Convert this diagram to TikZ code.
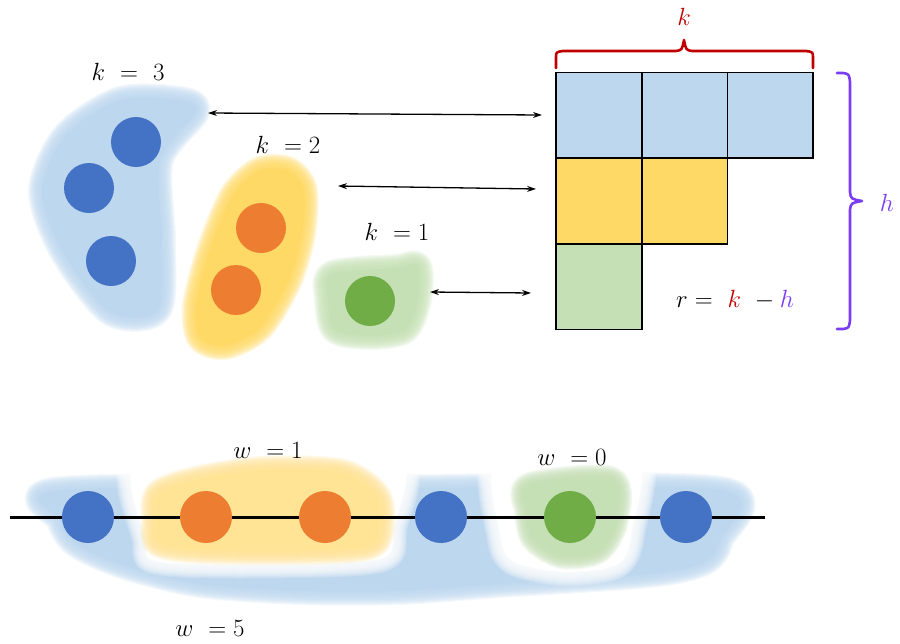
\documentclass[tikz,border=0pt]{standalone}
\usetikzlibrary{arrows.meta}
\definecolor{cblue}{RGB}{68,114,196}
\definecolor{corange}{RGB}{237,125,49}
\definecolor{cgreen}{RGB}{112,173,71}
\definecolor{lblue}{RGB}{189,215,238}
\definecolor{lyellow}{RGB}{255,217,102}
\definecolor{lyellow2}{RGB}{255,228,150}
\definecolor{lgreen}{RGB}{197,224,180}
\definecolor{bred}{RGB}{192,0,0}
\definecolor{bpurple}{RGB}{122,60,245}
\newcommand{\softfill}[2]{%
  \foreach \w in {28,26,...,2}{\draw[#1, line width=\w pt, opacity=0.17, line join=round] #2;}
  \fill[#1] #2;}
\tikzset{
  dot/.style={circle, inner sep=0pt, minimum size=50pt},
  bdot/.style={dot, minimum size=52pt},
  cell/.style={draw=black, line width=1.5pt, minimum size=85.7pt, inner sep=0pt},
  lbl/.style={font=\fontsize{27}{31}\selectfont, inner sep=0pt},
  twoarrow/.style={{Stealth[length=9pt,width=6pt]}-{Stealth[length=9pt,width=6pt]}, line width=1.3pt},
  brace/.style={line width=2.6pt, line cap=round, line join=round}
}
\begin{document}
\begin{tikzpicture}[x=1pt,y=-1pt]
\useasboundingbox (0,0) rectangle (900,643);
% ---------- top blobs ----------
\softfill{lblue}{plot[smooth cycle] coordinates {(196,112) (160,160) (162,240) (158,310) (110,312) (62,250) (42,190) (66,135) (120,100) (180,100)}}
\softfill{lyellow}{plot[smooth cycle] coordinates {(288,170) (304,190) (302,235) (288,282) (260,328) (225,346) (200,338) (196,305) (210,250) (233,195) (260,170)}}
\softfill{lgreen}{plot[smooth cycle] coordinates {(332,274) (395,268) (418,266) (418,300) (405,330) (370,336) (335,330) (328,300)}}
% top circles
\node[dot, fill=cblue] (b1) at (136,142) {};
\node[dot, fill=cblue] (b2) at (89,188) {};
\node[dot, fill=cblue] (b3) at (111,261) {};
\node[dot, fill=corange] (o1) at (261,228) {};
\node[dot, fill=corange] (o2) at (236,290) {};
\node[dot, fill=cgreen] (g1) at (370,301) {};
\node[lbl] (k3) at (128,72) {$k\ =\ 3$};
\node[lbl] (k2) at (288,145) {$k\ =2$};
\node[lbl] (k1) at (397,232) {$k\ =1$};
% ---------- grid ----------
\node[cell, fill=lblue] (c11) at (598.9,115.2) {};
\node[cell, fill=lblue] (c12) at (684.6,115.2) {};
\node[cell, fill=lblue] (c13) at (770.3,115.2) {};
\node[cell, fill=lyellow] (c21) at (598.9,200.9) {};
\node[cell, fill=lyellow] (c22) at (684.6,200.9) {};
\node[cell, fill=lgreen] (c31) at (598.9,286.6) {};
% arrows
\coordinate (a1l) at (208,113); \coordinate (a1r) at (542,115);
\coordinate (a2l) at (338,186); \coordinate (a2r) at (536,189);
\coordinate (a3l) at (430,292); \coordinate (a3r) at (531,293);
\draw[twoarrow] (a1l) -- (a1r);
\draw[twoarrow] (a2l) -- (a2r);
\draw[twoarrow] (a3l) -- (a3r);
% red brace
\draw[brace, bred] (556,68) -- (556,58) .. controls (556,52) .. (563,51) -- (676,51) .. controls (682,50) .. (684,40) .. controls (686,50) .. (692,51) -- (806,51) .. controls (813,52) .. (813,58) -- (813,68);
\node[lbl, text=bred] (kr) at (684,17) {$k$};
% purple brace
\draw[brace, bpurple] (837,73) -- (843,73) .. controls (849,74) .. (850,82) -- (850,192) .. controls (851,199) .. (862,201) .. controls (851,203) .. (850,210) -- (850,320) .. controls (849,328) .. (843,329) -- (837,329);
\node[lbl, text=bpurple] (hh) at (887,203) {$h$};
\node[lbl] (rel) at (735,300) {$r=\ \textcolor{bred}{k}\ -\textcolor{bpurple}{h}$};
% ---------- bottom ----------
\softfill{lblue}{plot[smooth cycle] coordinates {(60,490) (400,488) (722,490) (720,540) (704,562) (650,574) (500,584) (400,591) (300,591) (200,584) (125,566) (76,544) (60,520)}}
\softfill{white}{plot[smooth cycle] coordinates {(146,452) (390,452) (393,530) (383,558) (300,564) (162,562) (146,540)}}
\softfill{white}{plot[smooth cycle] coordinates {(500,454) (634,454) (632,530) (618,564) (565,572) (514,562) (500,535)}}
\softfill{lyellow2}{plot[smooth cycle] coordinates {(158,494) (195,480) (260,470) (340,472) (376,494) (381,522) (370,546) (300,551) (200,550) (158,543) (155,520)}}
\softfill{lgreen}{plot[smooth cycle] coordinates {(530,486) (611,480) (615,520) (598,550) (562,555) (534,538) (528,510)}}
\coordinate (ll) at (10,517); \coordinate (lr) at (765,517);
\draw[line width=3pt] (ll) -- (lr);
\node[bdot, fill=cblue] (d1) at (88,517) {};
\node[bdot, fill=corange] (d2) at (206,517) {};
\node[bdot, fill=corange] (d3) at (325,517) {};
\node[bdot, fill=cblue] (d4) at (441,517) {};
\node[bdot, fill=cgreen] (d5) at (570,517) {};
\node[bdot, fill=cblue] (d6) at (686,517) {};
\node[lbl] (w1) at (268,450) {$w\ =1$};
\node[lbl] (w0) at (572,457) {$w\ =0$};
\node[lbl] (w5) at (210,628) {$w\ =5$};
\end{tikzpicture}
\end{document}
